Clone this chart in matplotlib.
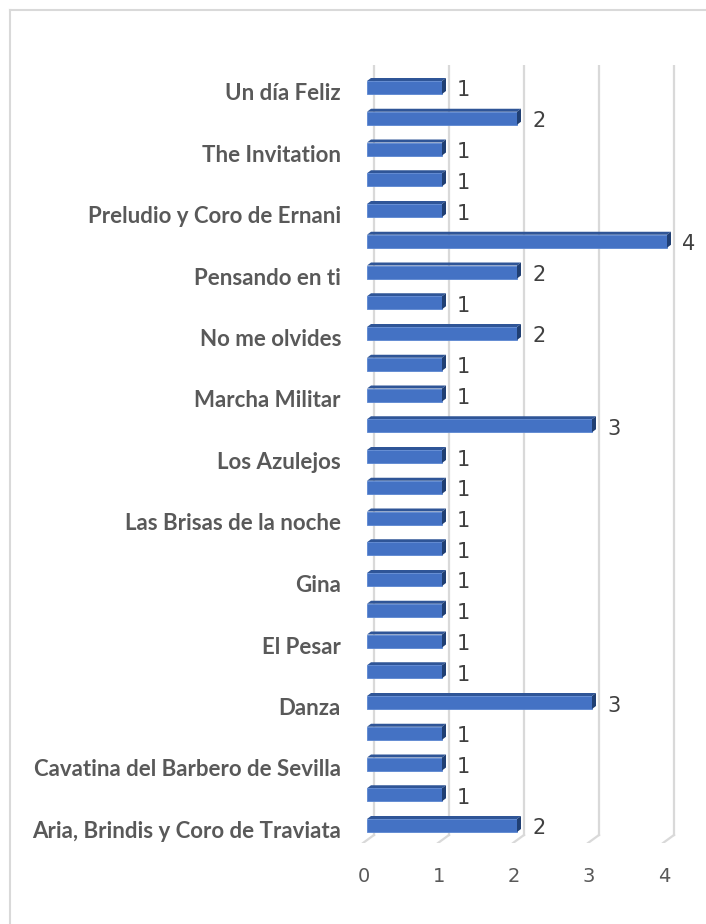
import matplotlib
matplotlib.use("Agg")
import matplotlib.pyplot as plt
from matplotlib.patches import Polygon
from matplotlib.lines import Line2D

# Pieces listed from the bottom of the chart to the top; only every other name is shown
categories = [
    "Aria, Brindis y Coro de Traviata", "",
    "Cavatina del Barbero de Sevilla", "",
    "Danza", "",
    "El Pesar", "",
    "Gina", "",
    "Las Brisas de la noche", "",
    "Los Azulejos", "",
    "Marcha Militar", "",
    "No me olvides", "",
    "Pensando en ti", "",
    "Preludio y Coro de Ernani", "",
    "The Invitation", "",
    "Un día Feliz",
]
values = [2, 1, 1, 1, 3, 1, 1, 1, 1, 1, 1, 1, 1, 3, 1, 1, 2, 1, 2, 4, 1, 1, 1, 2, 1]
x_ticks = [0, 1, 2, 3, 4]

W, H = 706, 924
fig = plt.figure(figsize=(W / 100, H / 100), dpi=100)

# axes placed in pixel terms
px_left, px_right = 355, 700
px_top, px_bottom = 65, 843
ax = fig.add_axes([px_left / W, 1 - px_bottom / H, (px_right - px_left) / W, (px_bottom - px_top) / H])
ax.set_axis_off()

ux = 75.0       # pixels per unit along x
uy = 30.75      # pixels per category step
x0_px = 367     # pixel of x = 0 (front face)
ax.set_xlim((px_left - x0_px) / ux, (px_right - x0_px) / ux)
y0_px = 825.5   # pixel of the first category
ax.set_ylim(-(px_bottom - y0_px) / uy, (y0_px - px_top) / uy)

dx_px = 1 / ux
dy_px = 1 / uy

# back-wall gridlines with a slanted floor segment
grid_c = "#D9D9D9"
for t in x_ticks:
    xb = t + 7 * dx_px
    xf = t - 4 * dx_px
    yb = -(835 - y0_px) * dy_px
    yf = -(843 - y0_px) * dy_px
    ytop = (y0_px - px_top) * dy_px
    ax.add_line(Line2D([xb, xb], [yb, ytop], color=grid_c, lw=1.6, zorder=1))
    ax.add_line(Line2D([xb, xf], [yb, yf], color=grid_c, lw=1.6, zorder=1))

# bars with a shallow 3D look
front_c = "#4472C4"
top_c = "#2F5597"
side_c = "#203F73"
h = 13 * dy_px
ddx = 4 * dx_px
ddy = 3 * dy_px
ypos = list(range(len(values)))
ax.barh(ypos, values, height=h, left=0, color=front_c, edgecolor="#5B86D1", linewidth=0.6, zorder=3)
for y, v in zip(ypos, values):
    top = Polygon([(0, y + h / 2), (v, y + h / 2), (v + ddx, y + h / 2 + ddy), (ddx, y + h / 2 + ddy)],
                  closed=True, facecolor=top_c, edgecolor="none", zorder=2)
    side = Polygon([(v, y - h / 2), (v, y + h / 2), (v + ddx, y + h / 2 + ddy), (v + ddx, y - h / 2 + ddy)],
                   closed=True, facecolor=side_c, edgecolor="none", zorder=4)
    ax.add_patch(top)
    ax.add_patch(side)
    ax.text(v + 15 * dx_px, y - 3 * dy_px, str(v), ha="left", va="center",
            fontsize=15, color="#404040", family="DejaVu Sans", zorder=5)

# category labels, right aligned left of the plot
for y, name in zip(ypos, categories):
    if name:
        fig.text(341 / W, 1 - (y0_px - y * uy + 6) / H, name, ha="right", va="center",
                 fontsize=16, fontweight="bold", color="#595959", family="Lato")

# x tick labels
for t in x_ticks:
    ax.text(t - 3 * dx_px, -(876 - y0_px) * dy_px, str(t), ha="center", va="center",
            fontsize=14, color="#595959", family="DejaVu Sans", clip_on=False)

# chart-area border (left and top edges)
fig.add_artist(Line2D([9.5 / W, 9.5 / W], [0, 1 - 9.5 / H], color="#D9D9D9", lw=1.5))
fig.add_artist(Line2D([9.5 / W, 1], [1 - 9.5 / H, 1 - 9.5 / H], color="#D9D9D9", lw=1.5))

fig.savefig("out.png", dpi=100, facecolor="white")
